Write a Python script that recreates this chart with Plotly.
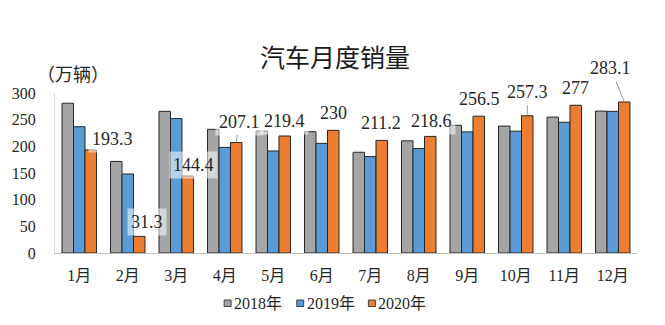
import plotly.graph_objects as go

# Monthly vehicle sales (10k units)
months = ["1月", "2月", "3月", "4月", "5月", "6月", "7月", "8月", "9月", "10月", "11月", "12月"]
series_names = ["2018年", "2019年", "2020年"]
sales_2018 = [280.9, 171.7, 265.6, 231.9, 228.8, 227.4, 188.9, 210.3, 239.4, 238.0, 254.8, 266.1]
sales_2019 = [236.7, 148.2, 252.0, 198.0, 191.3, 205.6, 180.8, 195.8, 227.1, 228.4, 245.1, 265.6]
sales_2020 = [193.3, 31.3, 144.4, 207.1, 219.4, 230, 211.2, 218.6, 256.5, 257.3, 277, 283.1]

colors = ["#A5A5A5", "#5B9BD5", "#ED7D31"]
W, H = 665, 325
ML, MR, MT, MB = 52, 28, 93, 72
PW, PH = W - ML - MR, H - MT - MB

SERIF = "'Liberation Serif', 'Noto Sans CJK SC', serif"
CJK = "'Noto Sans CJK SC', sans-serif"


def px_x(px):
    return (px - ML) / PW


def px_y(py):
    return (H - MB - py) / PH


fig = go.Figure()
for name, vals, col in zip(series_names, [sales_2018, sales_2019, sales_2020], colors):
    fig.add_trace(go.Bar(
        x=months, y=vals, name=name, showlegend=False,
        marker=dict(color=col, line=dict(color="#262626", width=1)),
        hoverinfo="x+y+name",
    ))

# Label placement for the 2020 series: (xshift, yshift) for plain labels,
# or (ax, ay) for labels joined to their bar by a leader line
bar_off = 11.5
plain = {0: (33.6, 11), 1: (19, 14), 2: (17, 11), 4: (11.6, 15), 5: (11.4, 17.5),
         6: (11, 17.5), 7: (12.4, 15.5), 8: (12, 17.5), 10: (11, 17.5)}
leader = {3: (3.4, -21), 9: (0, -24), 11: (-13.5, -34)}

annotations = []
for i, v in enumerate(sales_2020):
    txt = f"{v:g}"
    common = dict(x=months[i], y=v, xref="x", yref="y", text=txt,
                  font=dict(family=SERIF, size=18, color="#262626"),
                  bgcolor="rgba(255,255,255,0.55)", borderpad=3)
    if i in plain:
        xs, ys = plain[i]
        annotations.append(dict(common, showarrow=False, xshift=xs, yshift=ys,
                                xanchor="center", yanchor="middle"))
    else:
        ax, ay = leader[i]
        annotations.append(dict(common, showarrow=True, xshift=bar_off, ax=ax, ay=ay,
                                arrowhead=0, arrowwidth=0.8, arrowcolor="#808080",
                                standoff=0, startstandoff=0))

# Unit label
annotations.append(dict(x=px_x(70), y=px_y(73), xref="paper", yref="paper",
                        text="（万辆）", showarrow=False, xanchor="center", yanchor="middle",
                        font=dict(family=CJK, size=18, color="#262626")))

# Legend row
shapes = []
legend_x = [222, 295, 367]
for name, col, lx in zip(series_names, colors, legend_x):
    shapes.append(dict(type="rect", xref="paper", yref="paper",
                       x0=px_x(lx), x1=px_x(lx + 7), y0=px_y(306.5), y1=px_y(300),
                       fillcolor=col, line=dict(color="#404040", width=1)))
    annotations.append(dict(x=px_x(lx + 8), y=px_y(303), xref="paper", yref="paper",
                            text=name, showarrow=False, xanchor="left", yanchor="middle",
                            font=dict(family=SERIF, size=16, color="#262626")))

fig.update_layout(
    width=W, height=H,
    margin=dict(l=ML, r=MR, t=MT, b=MB),
    paper_bgcolor="white", plot_bgcolor="white",
    barmode="group", bargap=0.29, bargroupgap=0,
    title=dict(text="汽车月度销量", x=335 / W, xanchor="center",
               y=1 - 58 / H, yanchor="middle", yref="container",
               font=dict(family=CJK, size=25, color="#1a1a1a")),
    annotations=annotations,
    shapes=shapes,
    font=dict(family=SERIF, color="#262626"),
)
fig.update_xaxes(type="category", showline=True, linecolor="#BFBFBF", linewidth=1,
                 ticks="", showgrid=False, ticklabelstandoff=8,
                 tickfont=dict(family=SERIF, size=16, color="#262626"))
fig.update_yaxes(range=[0, 300], dtick=50, showline=True, linecolor="#D9D9D9", linewidth=1,
                 ticks="", showgrid=False, zeroline=False, ticklabelstandoff=15,
                 tickfont=dict(family=SERIF, size=16, color="#262626"))

fig.write_html("out.html")
